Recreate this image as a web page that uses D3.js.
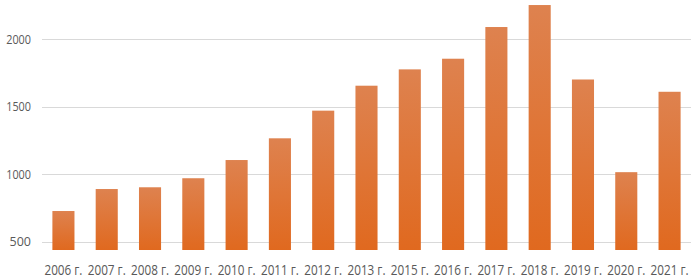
<!DOCTYPE html>
<html>
<head>
<meta charset="utf-8">
<script src="https://cdn.jsdelivr.net/npm/d3@7"></script>
<style>
  body { margin: 0; background: #fff; }
  text { font-family: "Open Sans", "Liberation Sans", sans-serif; fill: #595959; }
</style>
</head>
<body>
<div id="chart"></div>
<script>
var years = ["2006 г.", "2007 г.", "2008 г.", "2009 г.", "2010 г.", "2011 г.", "2012 г.", "2013 г.",
             "2015 г.", "2016 г.", "2017 г.", "2018 г.", "2019 г.", "2020 г.", "2021 г."];
var values = [727, 890, 903, 970, 1105, 1266, 1471, 1656, 1777, 1856, 2091, 2254, 1702, 1015, 1611];
var yTicks = [500, 1000, 1500, 2000];

var width = 697, height = 279;
var margin = {top: 0, right: 6, bottom: 29, left: 42};

var svg = d3.select("#chart").append("svg")
    .attr("width", width)
    .attr("height", height);

var grad = svg.append("defs").append("linearGradient")
    .attr("id", "barFill")
    .attr("x1", 0).attr("y1", 0).attr("x2", 0).attr("y2", 1);
grad.append("stop").attr("offset", "0%").attr("stop-color", "#de824f");
grad.append("stop").attr("offset", "100%").attr("stop-color", "#e0691f");

var x = d3.scaleBand()
    .domain(years)
    .range([margin.left, width - margin.right])
    .paddingInner(0.49)
    .paddingOuter(0.24);

var y = d3.scaleLinear()
    .domain([438, 2000])
    .range([250, 39.3]);

// squeeze a text horizontally to a given width (labels in the original are condensed)
function squeeze(sel, w, cx, cy) {
    sel.each(function(d, i) {
        var t = d3.select(this);
        var nat = this.getComputedTextLength();
        var sx = Math.min(1, w / nat);
        t.attr("transform", "translate(" + cx(d, i) + "," + cy(d, i) + ") scale(" + sx + ",1)");
    });
}

// gridlines
svg.append("g")
    .selectAll("line")
    .data(yTicks)
    .enter()
    .append("line")
    .attr("x1", margin.left)
    .attr("x2", 691)
    .attr("y1", (d) => { return Math.round(y(d)) + 0.5; })
    .attr("y2", (d) => { return Math.round(y(d)) + 0.5; })
    .attr("stroke", "#d9d9d9")
    .attr("stroke-width", 1);

// y labels
svg.append("g")
    .selectAll("text")
    .data(yTicks)
    .enter()
    .append("text")
    .attr("text-anchor", "end")
    .attr("font-size", "12.5px")
    .text((d) => { return d; })
    .call(squeeze, 6.2 * 4, () => 31, (d) => y(d) + 4.5);

// bars
svg.append("g")
    .selectAll("rect")
    .data(values)
    .enter()
    .append("rect")
    .attr("x", (d, i) => { return x(years[i]); })
    .attr("y", (d) => { return y(d); })
    .attr("width", x.bandwidth())
    .attr("height", (d) => { return y(438) - y(d); })
    .attr("fill", "url(#barFill)");

// x labels
svg.append("g")
    .selectAll("text")
    .data(years)
    .enter()
    .append("text")
    .attr("text-anchor", "middle")
    .attr("font-size", "15px")
    .text((d) => { return d; })
    .call(squeeze, 38, (d) => x(d) + x.bandwidth() / 2, () => 275);
</script>
</body>
</html>
